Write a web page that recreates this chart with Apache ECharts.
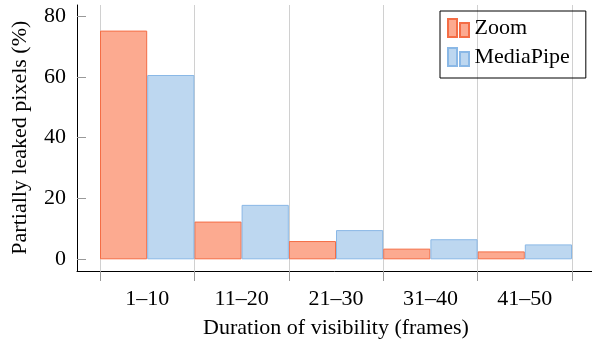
<!DOCTYPE html>
<html><head><meta charset="utf-8">
<script src="https://cdn.jsdelivr.net/npm/echarts@6/dist/echarts.min.js"></script>
<style>html,body{margin:0;padding:0;background:#fff}#c{width:592px;height:345px}</style>
</head><body><div id="c"></div>
<script>
const categories = ['1–10', '11–20', '21–30', '31–40', '41–50'];
const zoomValues = [75.2, 12.4, 6.0, 3.5, 2.6];
const mediapipeValues = [60.6, 17.9, 9.6, 6.6, 4.9];
const yTicks = [0, 20, 40, 60, 80];

const FONT = 'Liberation Serif';
const chart = echarts.init(document.getElementById('c'), null, {renderer: 'canvas'});
const icon = 'path://M0,0H9V18H0Z M12,4H21V18H12Z';
chart.setOption({
  animation: false,
  textStyle: {fontFamily: FONT},
  grid: [
    {left: 77, right: 0, top: 5, bottom: 74},
    {left: 100, right: 20, top: 5, bottom: 74},
    {left: 100, right: 20, top: 16, bottom: 85.7}
  ],
  legend: {
    orient: 'vertical', left: 440, top: 11,
    padding: [6, 16, 10, 7], itemGap: 7,
    borderColor: '#000', borderWidth: 1,
    itemWidth: 22, itemHeight: 18,
    textStyle: {fontFamily: FONT, fontSize: 22, color: '#000', padding: [0, 0, 0, 0]},
    data: [{name: 'Zoom', icon: icon}, {name: 'MediaPipe', icon: icon}]
  },
  xAxis: [
    {gridIndex: 0, type: 'value', min: 0, max: 1,
     axisLine: {show: true, onZero: false, lineStyle: {color: '#000', width: 1}},
     axisTick: {show: false}, axisLabel: {show: false}, splitLine: {show: false}},
    {gridIndex: 1, type: 'category', data: categories, boundaryGap: true,
     axisLine: {show: false},
     axisTick: {show: true, length: 10, lineStyle: {color: '#999'}},
     splitLine: {show: true, lineStyle: {color: '#d0d0d0', width: 1}},
     axisLabel: {fontFamily: FONT, fontSize: 22, color: '#000', margin: 17},
     name: 'Duration of visibility (frames)', nameLocation: 'middle', nameGap: 46,
     nameTextStyle: {fontFamily: FONT, fontSize: 22, color: '#000'}},
    {gridIndex: 2, type: 'category', data: categories, show: false}
  ],
  yAxis: [
    {gridIndex: 0, type: 'value', min: 0, max: 1,
     axisLine: {show: true, lineStyle: {color: '#000', width: 1}},
     axisTick: {show: false}, axisLabel: {show: false}, splitLine: {show: false}},
    {gridIndex: 1, type: 'value', min: 0, max: 1, show: false},
    {gridIndex: 2, type: 'value', min: 0, max: 80, interval: 20, offset: 23,
     axisLine: {show: false},
     axisTick: {show: true, inside: true, length: 9, lineStyle: {color: '#999'}},
     splitLine: {show: false},
     axisLabel: {fontFamily: FONT, fontSize: 22, color: '#000', margin: 11,
       formatter: v => yTicks.includes(v) ? String(v) : ''},
     name: 'Partially leaked pixels (%)', nameLocation: 'middle', nameGap: 46,
     nameTextStyle: {fontFamily: FONT, fontSize: 22, color: '#000'}}
  ],
  series: [
    {name: 'Zoom', type: 'bar', xAxisIndex: 2, yAxisIndex: 2, data: zoomValues,
     barGap: '0%', barCategoryGap: '0%',
     itemStyle: {color: '#fcaa90', borderColor: '#f46d45', borderWidth: 1}},
    {name: 'MediaPipe', type: 'bar', xAxisIndex: 2, yAxisIndex: 2, data: mediapipeValues,
     barGap: '0%', barCategoryGap: '0%',
     itemStyle: {color: '#bdd7f0', borderColor: '#8ab8e6', borderWidth: 1}}
  ]
});
</script></body></html>
